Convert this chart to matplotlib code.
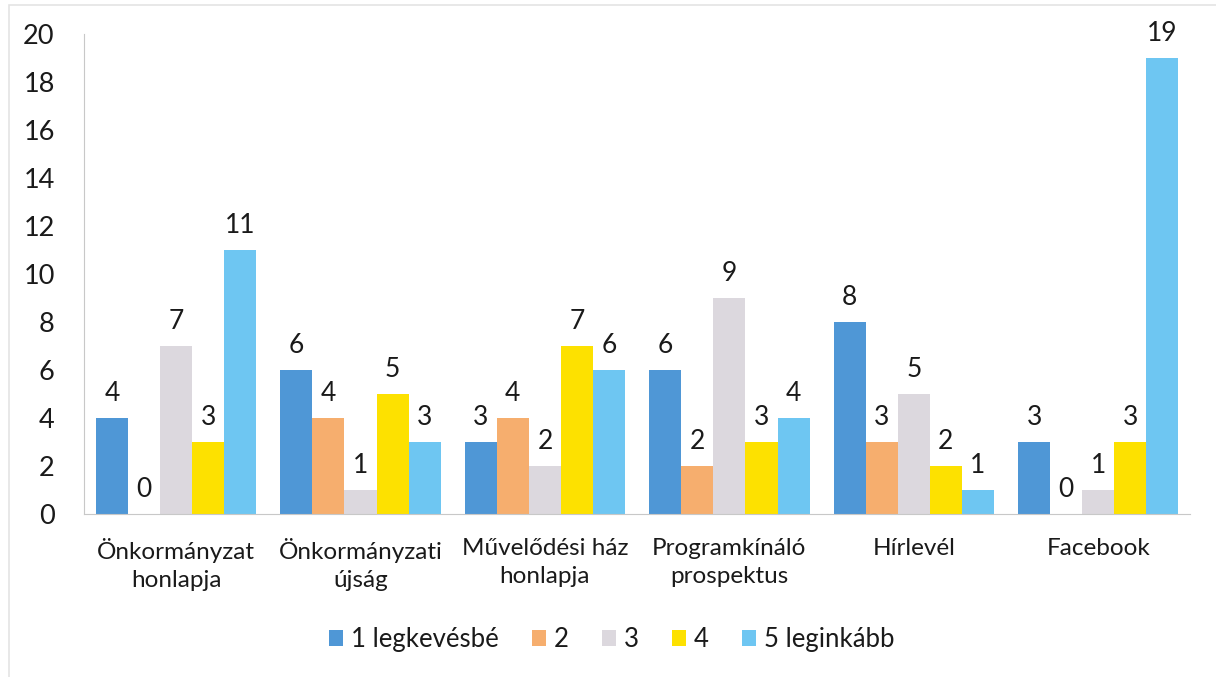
import numpy as np
import matplotlib.pyplot as plt
from matplotlib.patches import Rectangle

plt.rcParams['font.family'] = ['Lato', 'DejaVu Sans']

## Data: answers per information channel, by rating
categories = ['Önkormányzat\nhonlapja', 'Önkormányzati\nújság', 'Művelődési ház\nhonlapja',
              'Programkínáló\nprospektus', 'Hírlevél', 'Facebook']
series_names = ['1 legkevésbé', '2', '3', '4', '5 leginkább']
r1 = [4, 6, 3, 6, 8, 3]
r2 = [0, 4, 4, 2, 3, 0]
r3 = [7, 1, 2, 9, 5, 1]
r4 = [3, 5, 7, 3, 2, 3]
r5 = [11, 3, 6, 4, 1, 19]
yticks = [0, 2, 4, 6, 8, 10, 12, 14, 16, 18, 20]

colors = ['#4f97d6', '#f6ae6e', '#dcd8de', '#fde100', '#6ec6f2']

fig = plt.figure(figsize=(12.16, 6.77), dpi=100)
ax = fig.add_axes([0.069, 0.2408, 0.91, 0.709])

x = np.arange(len(categories))
w = 0.174
for i, vals in enumerate([r1, r2, r3, r4, r5]):
    pos = x + (i - 2) * w
    ax.bar(pos, vals, width=w, color=colors[i], label=series_names[i])
    for p, v in zip(pos, vals):
        ax.text(p, v + 0.5, str(v), ha='center', va='bottom', fontsize=19, color='#1a1a1a')

ax.set_xlim(-0.5, len(categories) - 0.5)
ax.set_ylim(0, 20)
ax.set_yticks(yticks)
ax.set_xticks(x)
ax.set_xticklabels(categories, fontsize=17.5, color='#1a1a1a', linespacing=1.45)
ax.tick_params(axis='y', labelsize=19.5, labelcolor='#1a1a1a', length=0, pad=21)
ax.tick_params(axis='x', length=0, pad=17)

for s in ['top', 'right']:
    ax.spines[s].set_visible(False)
ax.spines['left'].set_color('#c8c8c8')
ax.spines['bottom'].set_color('#c8c8c8')

leg = fig.legend(loc='center', bbox_to_anchor=(0.503, 0.055), ncol=5, frameon=False,
                 fontsize=18.5, handlelength=0.55, handleheight=0.55, handletextpad=0.3,
                 columnspacing=1.3)
for t in leg.get_texts():
    t.set_color('#1a1a1a')

# faint outer frame of the chart area
fig.patches.append(Rectangle((0.007, -0.02), 1.2, 1.012, transform=fig.transFigure,
                             fill=False, edgecolor='#e4e4e4', linewidth=1.2))

fig.savefig('out.png', dpi=100)
